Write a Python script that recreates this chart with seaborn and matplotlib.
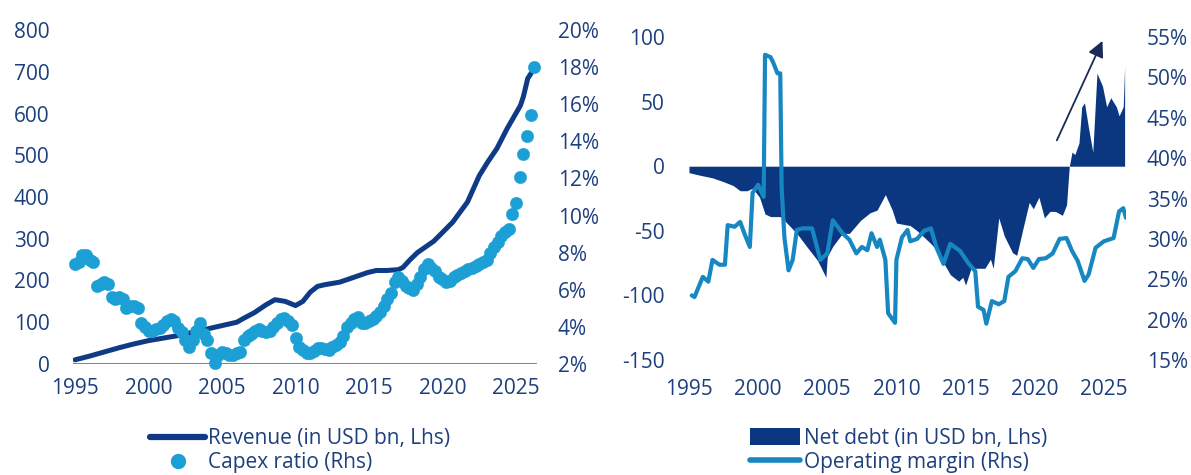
import matplotlib
matplotlib.use("Agg")
import matplotlib.pyplot as plt
from matplotlib.lines import Line2D
from matplotlib.patches import Patch
import numpy as np
import pandas as pd
import seaborn as sns

# ---------------- data ----------------
# Revenue, USD bn (left panel, left axis)
rev_years = [1995.0, 1996.0, 1997.0, 1998.0, 1999.0, 2000.0, 2001.0, 2002.0, 2003.0,
             2004.0, 2005.0, 2006.0, 2006.5, 2007.2, 2008.0, 2008.6, 2009.3, 2010.0,
             2010.5, 2011.0, 2011.5, 2012.0, 2013.0, 2014.0, 2014.9, 2015.5, 2016.2,
             2017.0, 2017.3, 2017.8, 2018.3, 2019.4, 2020.0, 2020.7, 2021.7, 2022.5,
             2023.1, 2023.7, 2024.4, 2025.3, 2025.5, 2025.8, 2026.3]
rev_values = [10, 19, 29, 39, 48, 56, 62, 68, 76,
              84, 92, 100, 110, 123, 142, 154, 150, 140,
              150, 172, 186, 190, 196, 208, 219, 224, 224,
              226, 231, 250, 267, 294, 315, 340, 388, 451,
              485, 516, 564, 619, 640, 684, 711]

# Capex ratio, % of revenue, quarterly from 1995 Q1 (left panel, right axis)
capex_start = 1995.0
capex_pct = [7.4, 7.5, 7.9, 7.9,
             7.6, 7.5, 6.2, 6.3,
             6.4, 6.3, 5.6, 5.5,
             5.6, 5.5, 5.0, 5.1,
             5.1, 5.0, 4.2, 4.0,
             3.8, 3.8, 3.9, 3.95,
             4.1, 4.3, 4.4, 4.3,
             3.95, 3.7, 3.3, 2.9,
             3.3, 3.8, 4.2, 3.6,
             3.3, 2.6, 2.05, 2.5,
             2.65, 2.6, 2.5, 2.5,
             2.6, 2.65, 3.3, 3.5,
             3.6, 3.8, 3.9, 3.8,
             3.7, 3.8, 4.0, 4.2,
             4.4, 4.5, 4.3, 4.1,
             3.4, 2.9, 2.76, 2.6,
             2.6, 2.7, 2.87, 2.85,
             2.8, 2.76, 2.9, 3.0,
             3.2, 3.5, 4.0, 4.2,
             4.4, 4.55, 4.2, 4.2,
             4.3, 4.4, 4.6, 4.8,
             5.1, 5.5, 5.85, 6.4,
             6.7, 6.5, 6.2, 6.1,
             6.0, 6.3, 6.7, 7.1,
             7.4, 7.2, 7.0, 6.7,
             6.6, 6.4, 6.5, 6.7,
             6.8, 6.9, 7.0, 7.1,
             7.2, 7.3, 7.4, 7.5,
             7.6, 8.0, 8.3, 8.6,
             8.9, 9.1, 9.3, 10.1,
             10.7, 12.1, 13.3, 14.3,
             15.4, 18.0]

# Net debt, USD bn (right panel, left axis)
nd_years = [1995.0, 1995.8, 1996.7, 1997.5, 1998.2, 1998.7, 1999.2, 1999.6, 2000.1,
            2000.5, 2000.9, 2001.6, 2001.9, 2002.8, 2003.5, 2004.3, 2004.9, 2005.0,
            2005.4, 2006.1, 2006.6, 2007.4, 2008.1, 2008.6, 2009.2, 2009.7, 2010.0,
            2011.0, 2011.5, 2012.0, 2012.5, 2013.0, 2013.2, 2013.9, 2014.5, 2014.8,
            2015.0, 2015.4, 2015.9, 2016.4, 2016.8, 2017.0, 2017.4, 2017.8, 2018.4,
            2018.7, 2019.2, 2019.6, 2019.9, 2020.3, 2020.7, 2021.1, 2021.5, 2022.0,
            2022.3, 2022.5, 2022.7, 2022.9, 2023.2, 2023.4, 2023.6, 2023.9, 2024.2,
            2024.5, 2024.9, 2025.2, 2025.5, 2025.9, 2026.1, 2026.4, 2026.5]
nd_values = [-5, -7, -9, -12, -15, -19, -19, -17, -24,
             -37, -39, -39, -42, -52, -62, -73, -86, -70,
             -62, -52, -52, -42, -36, -34, -22, -34, -44,
             -46, -50, -55, -60, -66, -71, -84, -89, -86,
             -92, -79, -79, -79, -72, -79, -40, -54, -67,
             -69, -46, -28, -33, -24, -40, -35, -35, -38,
             -30, 0, 11, 9, 18, 46, 49, 29, 11,
             72, 62, 46, 53, 46, 39, 46, 77]

# Operating margin, % (right panel, right axis)
om_years = [1995.2, 1995.4, 1996.0, 1996.4, 1996.7, 1997.2, 1997.6, 1997.8, 1998.3,
            1998.7, 1999.0, 1999.4, 1999.6, 2000.0, 2000.4, 2000.5, 2000.9, 2001.1,
            2001.4, 2001.6, 2001.7, 2001.9, 2002.2, 2002.5, 2002.8, 2003.2, 2003.9,
            2004.5, 2005.0, 2005.4, 2006.1, 2006.6, 2007.1, 2007.5, 2007.9, 2008.2,
            2008.6, 2008.8, 2009.2, 2009.4, 2009.9, 2010.0, 2010.4, 2010.8, 2011.0,
            2011.5, 2012.0, 2012.5, 2012.9, 2013.4, 2013.9, 2014.6, 2015.2, 2015.7,
            2015.9, 2016.3, 2016.5, 2016.9, 2017.4, 2017.8, 2018.1, 2018.6, 2019.1,
            2019.5, 2019.9, 2020.3, 2020.8, 2021.3, 2021.8, 2022.3, 2022.7, 2023.1,
            2023.6, 2023.9, 2024.4, 2025.0, 2025.7, 2026.1, 2026.4, 2026.6]
om_pct = [23.0, 22.8, 25.3, 24.7, 27.4, 26.8, 26.8, 31.7, 31.5,
          32.1, 30.7, 29.0, 35.7, 36.7, 35.2, 52.8, 52.5, 51.8,
          50.5, 50.5, 36.4, 30.2, 26.1, 27.4, 31.1, 31.3, 31.3,
          27.4, 28.2, 32.3, 30.7, 29.9, 28.2, 29.0, 28.6, 30.7,
          29.0, 29.9, 27.4, 20.8, 19.6, 27.4, 30.2, 31.1, 29.7,
          30.0, 31.0, 31.3, 28.9, 26.9, 29.4, 28.5, 27.0, 26.0,
          21.6, 21.2, 19.5, 22.3, 21.9, 22.3, 25.3, 26.0, 27.6,
          27.5, 26.4, 27.5, 27.6, 28.2, 30.0, 30.1, 28.5, 27.3,
          24.8, 25.6, 28.9, 29.7, 30.1, 33.4, 33.8, 32.6]

year_ticks = [1995, 2000, 2005, 2010, 2015, 2020, 2025]
rev_ticks = [0, 100, 200, 300, 400, 500, 600, 700, 800]
capex_ticks = [2, 4, 6, 8, 10, 12, 14, 16, 18, 20]
nd_ticks = [-150, -100, -50, 0, 50, 100]
om_ticks = [15, 20, 25, 30, 35, 40, 45, 50, 55]

legend_left = ["Revenue (in USD bn, Lhs)", "Capex ratio (Rhs)"]
legend_right = ["Net debt (in USD bn, Lhs)", "Operating margin (Rhs)"]

# ---------------- style ----------------
NAVY = "#0e3a86"
AREA = "#0b3680"
SKY = "#1b9fd5"
MARGIN = "#1787c1"
TEXT = "#1d3f7e"
ARROW = "#1a2b55"

sns.set_theme(style="white")
plt.rcParams["font.family"] = ["Open Sans", "DejaVu Sans"]
FS = 15

capex_years = capex_start + np.arange(len(capex_pct)) * 0.25
df_rev = pd.DataFrame({"year": rev_years, "rev": rev_values})
df_cap = pd.DataFrame({"year": capex_years, "capex": capex_pct})
df_nd = pd.DataFrame({"year": nd_years, "nd": nd_values})
df_om = pd.DataFrame({"year": om_years, "om": om_pct})

W, H = 1191, 475
fig = plt.figure(figsize=(W / 100, H / 100), dpi=100)

def frac_box(x0, x1, ytop, ybot):
    return [x0 / W, 1 - ybot / H, (x1 - x0) / W, (ybot - ytop) / H]

def style_axis(ax):
    for s in ax.spines.values():
        s.set_visible(False)
    ax.tick_params(length=0, labelsize=FS, labelcolor=TEXT)
    ax.grid(False)

# ---------------- left panel ----------------
ax1 = fig.add_axes(frac_box(73, 537, 30, 364))
ax1b = ax1.twinx()

sns.lineplot(data=df_rev, x="year", y="rev", ax=ax1, color=NAVY, lw=3.6,
             solid_capstyle="round", legend=False)
ax1.axhline(0, color="#3a64aa", lw=1.1, zorder=1)
sns.scatterplot(data=df_cap, x="year", y="capex", ax=ax1b, color=SKY, s=80,
                edgecolor=SKY, linewidth=0.3, clip_on=False, legend=False, zorder=3)

ax1.set_xlim(1994.86, 2026.43)
ax1.set_ylim(0, 800)
ax1b.set_ylim(2, 20)
ax1.set_xticks(year_ticks)
ax1.set_xticklabels([str(y) for y in year_ticks])
ax1.set_yticks(rev_ticks)
ax1.set_yticklabels([str(v) for v in rev_ticks])
ax1b.set_yticks(capex_ticks)
ax1b.set_yticklabels([f"{v}%" for v in capex_ticks])
for ax in (ax1, ax1b):
    style_axis(ax)
    ax.set_xlabel("")
    ax.set_ylabel("")
ax1.tick_params(axis="y", pad=17)
ax1.tick_params(axis="x", pad=10)
ax1b.tick_params(axis="y", pad=15)

# ---------------- right panel ----------------
ax2 = fig.add_axes(frac_box(688, 1126, 37, 360))
ax2b = ax2.twinx()

ax2.fill_between(df_nd["year"], df_nd["nd"], 0, color=AREA, lw=0, zorder=2)
sns.lineplot(data=df_om, x="year", y="om", ax=ax2b, color=MARGIN, lw=3.0,
             legend=False)
ax2.annotate("", xy=(2024.9, 97), xytext=(2021.6, 20),
             arrowprops=dict(arrowstyle="-|>", color=ARROW, lw=1.3,
                             mutation_scale=24, shrinkA=0, shrinkB=0),
             zorder=5)

ax2.set_xlim(1994.93, 2026.6)
ax2.set_ylim(-150, 100)
ax2b.set_ylim(15, 55)
ax2.set_xticks(year_ticks)
ax2.set_xticklabels([str(y) for y in year_ticks])
ax2.set_yticks(nd_ticks)
ax2.set_yticklabels([str(v) for v in nd_ticks])
ax2b.set_yticks(om_ticks)
ax2b.set_yticklabels([f"{v}%" for v in om_ticks])
for ax in (ax2, ax2b):
    style_axis(ax)
    ax.set_xlabel("")
    ax.set_ylabel("")
ax2.tick_params(axis="y", pad=17)
ax2.tick_params(axis="x", pad=14)
ax2b.tick_params(axis="y", pad=15)

# ---------------- legends ----------------
h_left = [Line2D([], [], color=NAVY, lw=4.5),
          Line2D([], [], color=SKY, marker="o", ls="", markersize=10)]
fig.legend(h_left, legend_left, loc="upper left",
           bbox_to_anchor=(150 / W, 1 - 428 / H), frameon=False,
           fontsize=FS, labelcolor=TEXT, handlelength=2.65, handletextpad=0.15,
           labelspacing=0.15, borderpad=0, borderaxespad=0)

h_right = [Patch(facecolor=AREA, edgecolor="none"),
           Line2D([], [], color=MARGIN, lw=4)]
fig.legend(h_right, legend_right, loc="upper left",
           bbox_to_anchor=(750 / W, 1 - 428 / H), frameon=False,
           fontsize=FS, labelcolor=TEXT, handlelength=2.4, handletextpad=0.2,
           handleheight=0.85, labelspacing=0.15, borderpad=0, borderaxespad=0)

fig.savefig("out.png", dpi=100)
